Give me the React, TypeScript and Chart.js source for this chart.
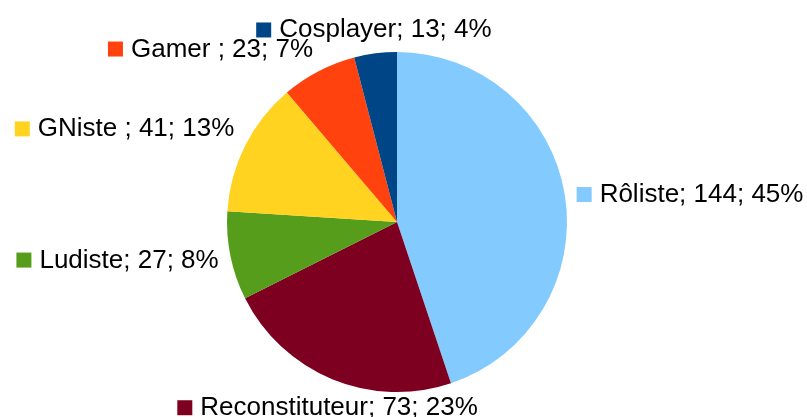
import React, { useEffect, useRef } from "react";
import { Chart, registerables } from "chart.js";

Chart.register(...registerables);

const categories = ["Rôliste", "Reconstituteur", "Ludiste", "GNiste ", "Gamer ", "Cosplayer"];
const values = [144, 73, 27, 41, 23, 13];
const colors = ["#83caff", "#7e0021", "#579d1c", "#ffd320", "#ff420e", "#004586"];

const FONT_SIZE = 26;
const FONT = `${FONT_SIZE}px "Liberation Sans", Arial, sans-serif`;

const labelPlugin = {
  id: "outerLabels",
  afterDraw(chart: any) {
    const ctx = chart.ctx;
    const meta = chart.getDatasetMeta(0);
    const total = values.reduce((a, b) => a + b, 0);
    ctx.save();
    ctx.font = FONT;
    meta.data.forEach((arc: any, i: number) => {
      const p = arc.getProps(["x", "y", "startAngle", "endAngle", "outerRadius"], true);
      const mid = (p.startAngle + p.endAngle) / 2;
      const dx = Math.cos(mid);
      const dy = Math.sin(mid);
      const r = p.outerRadius + 12;
      const px = p.x + dx * r;
      const py = p.y + dy * r;
      const pct = Math.round((values[i] / total) * 100);
      const text = `${categories[i]}; ${values[i]}; ${pct}%`;
      const tw = ctx.measureText(text).width;
      const boxW = 15 + 8 + tw;
      let left: number;
      if (Math.abs(dx) < 0.42) left = px - boxW / 2;
      else if (dx > 0) left = px;
      else left = px - boxW;
      let baseline: number;
      if (Math.abs(dy) < 0.3) baseline = py + 0.358 * FONT_SIZE;
      else if (dy < 0) baseline = py - 4;
      else baseline = py + 25;
      ctx.fillStyle = colors[i];
      ctx.fillRect(left, baseline - 15, 15, 15);
      ctx.fillStyle = "#000000";
      ctx.textAlign = "left";
      ctx.textBaseline = "alphabetic";
      ctx.fillText(text, left + 23, baseline);
    });
    ctx.restore();
  },
};

export default function App() {
  const ref = useRef<HTMLCanvasElement | null>(null);
  useEffect(() => {
    if (!ref.current) return;
    const chart = new Chart(ref.current, {
      type: "pie",
      data: {
        labels: categories,
        datasets: [
          {
            data: values,
            backgroundColor: colors,
            borderWidth: 0,
          },
        ],
      },
      options: {
        responsive: false,
        animation: false,
        layout: { padding: { left: 227, right: 240, top: 52, bottom: 25 } },
        plugins: {
          legend: { display: false },
          tooltip: { enabled: false },
        },
      },
      plugins: [labelPlugin],
    });
    return () => chart.destroy();
  }, []);
  return (
    <div style={{ position: "fixed", left: 0, top: 0, width: 807, height: 417, background: "#fff" }}>
      <canvas ref={ref} width={807} height={417} style={{ width: 807, height: 417, display: "block" }} />
    </div>
  );
}
